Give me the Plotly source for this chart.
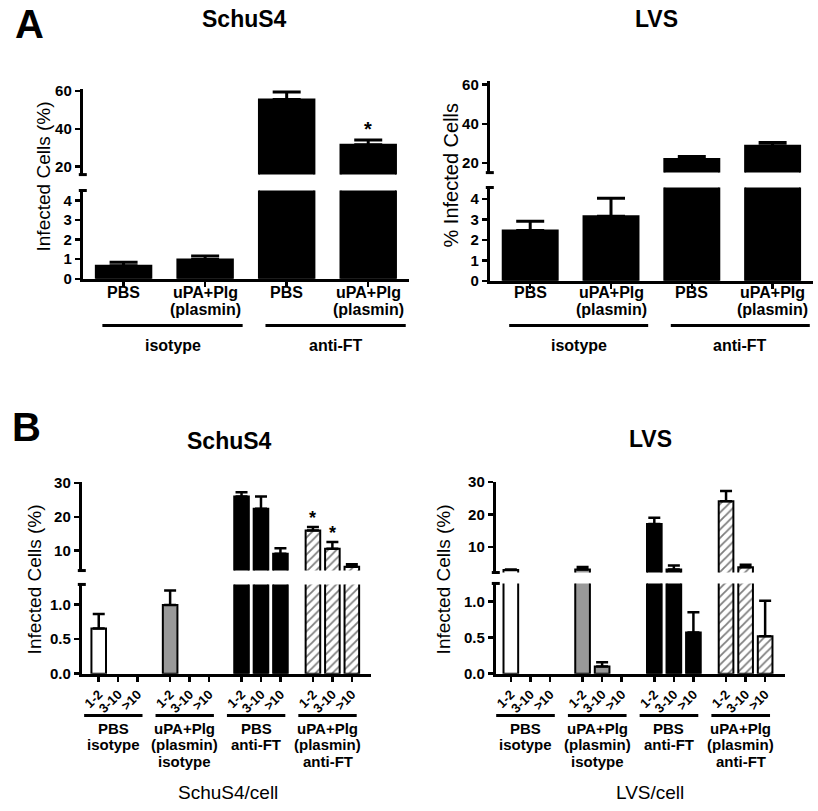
import plotly.graph_objects as go

# ---------------- data ----------------
A_categories = ["PBS", "uPA+Plg<br>(plasmin)", "PBS", "uPA+Plg<br>(plasmin)"]
A_groups = ["isotype", "anti-FT"]
schu_A_mean = [0.66, 0.98, 55.6, 31.6]
schu_A_sem = [0.18, 0.18, 4.0, 2.5]
schu_A_sig = [False, False, False, True]
lvs_A_mean = [2.45, 3.15, 22.0, 28.8]
lvs_A_sem = [0.45, 0.88, 1.3, 1.7]
lvs_A_sig = [False, False, False, False]

B_bins = ["1-2", "3-10", ">10"]
B_groups = ["PBS<br>isotype", "uPA+Plg<br>(plasmin)<br>isotype",
            "PBS<br>anti-FT", "uPA+Plg<br>(plasmin)<br>anti-FT"]
schu_B_mean = [[0.65, 0, 0], [0.99, 0, 0], [26.1, 22.4, 9.1], [16.0, 10.6, 5.2]]
schu_B_sem = [[0.21, 0, 0], [0.21, 0, 0], [1.2, 3.7, 1.6], [1.0, 2.0, 0.8]]
schu_B_sig = [[False] * 3, [False] * 3, [False] * 3, [True, True, False]]
lvs_B_mean = [[2.9, 0, 0], [3.0, 0.10, 0], [17.1, 3.0, 0.57], [24.1, 3.7, 0.52]]
lvs_B_sem = [[0.15, 0, 0], [0.8, 0.06, 0], [1.9, 1.3, 0.28], [3.2, 0.8, 0.49]]
lvs_B_sig = [[False] * 3] * 4

# ---------------- styles ----------------
W, H = 818, 811
FONT = "Liberation Sans, Arial, sans-serif"
BLACK = "black"
GROUP_STYLES = [
    dict(color="white", pattern=None),
    dict(color="#999999", pattern=None),
    dict(color="black", pattern=None),
    dict(color="white", pattern=dict(shape="/", fgcolor="black", bgcolor="white",
                                     size=6, solidity=0.3)),
]


def px(x):
    return x / W


def py(y):
    # layout positions (pixels from top), with a small vertical calibration
    yc = 84 + (y - 90) * 1.0136
    return 1 - yc / H


fig = go.Figure()
shapes = []
annotations = []


def yaxis_style(domain, rng, tickvals, fmt=None, anchor="x"):
    d = dict(domain=domain, range=rng, anchor=anchor, showline=True, linewidth=3,
             linecolor=BLACK, ticks="outside", ticklen=5, tickwidth=2.5,
             tickcolor=BLACK, tickvals=tickvals, showgrid=False, zeroline=False,
             tickfont=dict(family=FONT, size=15, color=BLACK, weight="bold"))
    if fmt:
        d["tickformat"] = fmt
    return d


def ytitle(text, x, y, size):
    annotations.append(dict(text=text, xref="paper", yref="paper", x=px(x), y=py(y),
                            textangle=-90, showarrow=False, xanchor="center",
                            yanchor="middle",
                            font=dict(family=FONT, size=size, color=BLACK)))


def label(text, x, y, size, bold=True, xref="paper"):
    annotations.append(dict(text=text, xref=xref, yref="paper",
                            x=px(x) if xref == "paper" else x, y=py(y),
                            showarrow=False, xanchor="center", yanchor="middle",
                            font=dict(family=FONT, size=size, color=BLACK,
                                      weight="bold" if bold else "normal")))


def multiline(text, xref, x, y0, step, size):
    for k, line in enumerate(text.split("<br>")):
        label(line, x, y0 + k * step, size, True, xref=xref)


def break_marks(xname, ylow, yup):
    for yname, yv in ((ylow, 1), (yup, 0)):
        shapes.append(dict(type="line", xref=f"{xname} domain", yref=f"{yname} domain",
                           xsizemode="pixel", xanchor=0, x0=-4, x1=4, y0=yv, y1=yv,
                           line=dict(color=BLACK, width=3)))


def add_bars(xs, ys, sems, xname, yname, width, marker, cap, thick):
    # only bars with a value are drawn (empty bins have no bar / error bar)
    keep = [i for i, v in enumerate(ys) if v > 0]
    if not keep:
        return
    fig.add_trace(go.Bar(
        x=[xs[i] for i in keep], y=[ys[i] for i in keep], xaxis=xname, yaxis=yname,
        width=width, marker=marker,
        error_y=dict(type="data", array=[sems[i] for i in keep],
                     arrayminus=[0] * len(keep), symmetric=False, color=BLACK,
                     thickness=thick, width=cap),
        showlegend=False, hoverinfo="skip"))


# ---------------- panel A ----------------
def panel_A(xname, ylow, yup, mean, sem, sig, xdom, lowdom, updom, lowrng, uprng,
            title, title_x, ytext, ytext_x, ytext_y, ytext_size):
    xpos = list(range(len(mean)))
    marker = dict(color=BLACK, line=dict(color=BLACK, width=2))
    for yname in (ylow, yup):
        add_bars(xpos, mean, sem, xname, yname, 0.68, marker, 14, 3)
    xa = "xaxis" + ("" if xname == "x" else xname[1:])
    fig.layout[xa] = dict(domain=xdom, range=[-0.5, len(mean) - 0.5], anchor=ylow,
                          showline=True, linewidth=3, linecolor=BLACK, ticks="outside",
                          ticklen=5, tickwidth=2.5, tickcolor=BLACK, tickvals=xpos,
                          showticklabels=False, showgrid=False, zeroline=False)
    fig.layout["yaxis" + ylow[1:]] = yaxis_style(lowdom, lowrng, [0, 1, 2, 3, 4], anchor=xname)
    fig.layout["yaxis" + yup[1:]] = yaxis_style(updom, uprng, [20, 40, 60], anchor=xname)
    break_marks(xname, ylow, yup)
    for i, cat in enumerate(A_categories):
        multiline(cat, xname, xpos[i], 293, 17, 16)
    for i, s in enumerate(sig):
        if s:
            annotations.append(dict(text="*", xref=xname, yref=yup, x=xpos[i],
                                    y=mean[i] + sem[i], yanchor="bottom", showarrow=False,
                                    yshift=-2, font=dict(family=FONT, size=20, color=BLACK,
                                                         weight="bold")))
    for g, gname in enumerate(A_groups):
        first, last = 2 * g, 2 * g + 1
        x0, x1 = first - 0.26, last + 0.46
        shapes.append(dict(type="line", xref=xname, yref="paper", x0=x0, x1=x1,
                           y0=py(326), y1=py(326), line=dict(color=BLACK, width=3)))
        label(gname, (x0 + x1) / 2, 346, 16, True, xref=xname)
    label(title, title_x, 17, 23)
    ytitle(ytext, ytext_x, ytext_y, ytext_size)


panel_A("x", "y", "y2", schu_A_mean, schu_A_sem, schu_A_sig,
        [px(81), px(408)], [py(279), py(190)], [py(174), py(88)], [0, 4.5], [15.8, 61],
        "SchuS4", 243, "Infected Cells (%)", 42, 176, 19)
panel_A("x2", "y3", "y4", lvs_A_mean, lvs_A_sem, lvs_A_sig,
        [px(489), px(813)], [py(281), py(187)], [py(172), py(80)], [0, 4.55], [15.1, 61.7],
        "LVS", 656, "% Infected Cells", 450, 174, 20)

# ---------------- panel B ----------------
GROUP_STEP = 3.67


def panel_B(xname, ylow, yup, mean, sem, sig, xdom, xrng, lowdom, updom, lowrng, uprng,
            title, title_x, title_y, ytext_x, xtitle, xtitle_x):
    tickvals, ticktext = [], []
    for g in range(len(mean)):
        xs = [g * GROUP_STEP + i for i in range(len(B_bins))]
        tickvals += xs
        ticktext += B_bins
        st = GROUP_STYLES[g]
        marker = dict(color=st["color"], line=dict(color=BLACK, width=2))
        if st["pattern"]:
            marker["pattern"] = st["pattern"]
        for yname in (ylow, yup):
            add_bars(xs, mean[g], sem[g], xname, yname, 0.75, marker, 6, 2.5)
        for i, s in enumerate(sig[g]):
            if s:
                annotations.append(dict(text="*", xref=xname, yref=yup, x=xs[i],
                                        y=mean[g][i] + sem[g][i], yanchor="bottom",
                                        showarrow=False, yshift=-3,
                                        font=dict(family=FONT, size=18, color=BLACK,
                                                  weight="bold")))
        x0, x1 = xs[0] - 0.75, xs[-1] + 0.25
        shapes.append(dict(type="line", xref=xname, yref="paper", x0=x0, x1=x1,
                           y0=py(719), y1=py(719), line=dict(color=BLACK, width=3)))
        multiline(B_groups[g], xname, (x0 + x1) / 2, 732, 16.5, 15)
    xa = "xaxis" + xname[1:]
    fig.layout[xa] = dict(domain=xdom, range=xrng, anchor=ylow, showline=True,
                          linewidth=3, linecolor=BLACK, ticks="outside", ticklen=5,
                          tickwidth=2.5, tickcolor=BLACK, tickvals=tickvals,
                          ticktext=ticktext, tickangle=-45, showgrid=False,
                          zeroline=False,
                          tickfont=dict(family=FONT, size=13, color=BLACK, weight="bold"))
    fig.layout["yaxis" + ylow[1:]] = yaxis_style(lowdom, lowrng, [0, 0.5, 1.0], ".1f",
                                                 anchor=xname)
    fig.layout["yaxis" + yup[1:]] = yaxis_style(updom, uprng, [10, 20, 30], anchor=xname)
    break_marks(xname, ylow, yup)
    label(title, title_x, title_y, 23)
    ytitle("Infected Cells (%)", ytext_x, 582, 19)
    label(xtitle, xtitle_x, 797, 19, False)


panel_B("x3", "y5", "y6", schu_B_mean, schu_B_sem, schu_B_sig,
        [px(80), px(370)], [-0.87, 14.0], [py(677), py(587)], [py(573), py(484)],
        [0, 1.286], [4.1, 30.3], "SchuS4", 228, 442, 33, "SchuS4/cell", 227)
panel_B("x4", "y7", "y8", lvs_B_mean, lvs_B_sem, lvs_B_sig,
        [px(495), px(785)], [-0.77, 14.03], [py(677), py(586)], [py(575), py(484)],
        [0, 1.25], [2.1, 30], "LVS", 650, 440, 443, "LVS/cell", 650)

# panel letters
label("A", 28, 22, 40)
label("B", 25, 428, 40)

fig.update_layout(width=W, height=H, margin=dict(l=0, r=0, t=0, b=0),
                  paper_bgcolor="white", plot_bgcolor="white", barmode="overlay",
                  shapes=shapes, annotations=annotations, showlegend=False)

# pin the 818x811 figure to the page's top-left corner so it fills the window exactly
fig.write_html(
    "out.html",
    config={"displayModeBar": False, "staticPlot": True},
    post_script=(
        "document.documentElement.style.overflow='hidden';"
        "document.body.style.margin='0';"
        "var d=document.getElementById('{plot_id}');"
        "d.style.position='fixed';d.style.left='0px';d.style.top='0px';"
    ),
)
